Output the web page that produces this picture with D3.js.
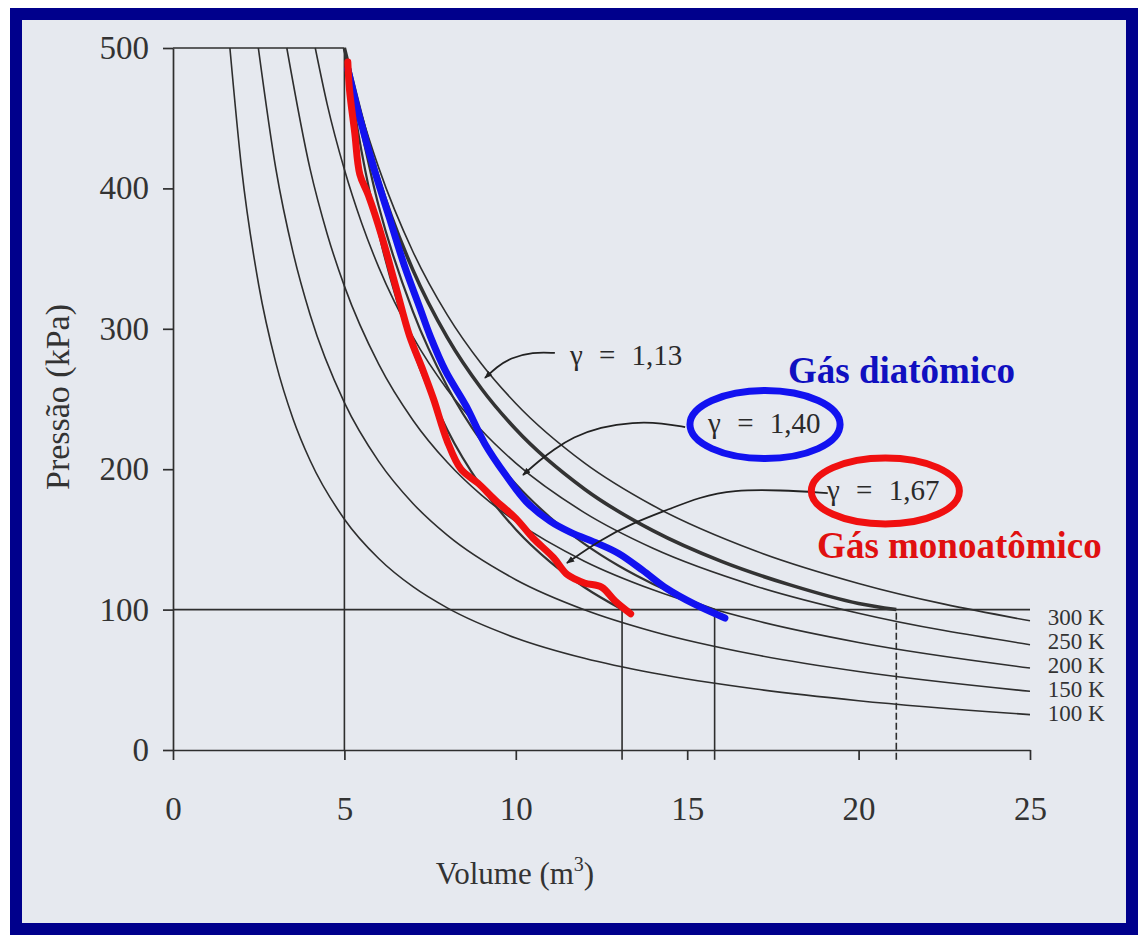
<!DOCTYPE html>
<html><head><meta charset="utf-8">
<script src="https://cdn.jsdelivr.net/npm/d3@7"></script>
<style>html,body{margin:0;padding:0;background:#fff;} svg{display:block;}</style>
</head><body>
<svg id="chart" width="1138" height="935"></svg>
<script>
// ---- data ----
const volumeTicks = [0, 5, 10, 15, 20, 25];
const pressureTicks = [0, 100, 200, 300, 400, 500];

const isoLabels = ["300 K", "250 K", "200 K", "150 K", "100 K"];
const isoLabelP = [89, 72, 55, 38, 21];

const iso300V = [5, 5.5, 6, 7, 8, 9, 10, 12, 14, 17, 20, 25];
const iso300P = [500, 452.8, 414.8, 354.9, 309.9, 274.9, 246.8, 204.5, 174.1, 141.7, 118.6, 92];
const iso250V = [4.15, 4.5, 5, 5.5, 6, 7, 8, 9, 10, 12, 14, 17, 20, 25];
const iso250P = [500, 459.7, 413.4, 375.5, 343.9, 294.2, 256.8, 227.7, 204.3, 169.1, 143.7, 116.7, 97.4, 75];
const iso200V = [3.32, 4, 4.5, 5, 6, 7, 8, 9, 10, 12, 14, 17, 20, 25];
const iso200P = [500, 413.7, 367.4, 330.4, 274.8, 234.9, 204.9, 181.5, 162.8, 134.5, 114.1, 92.2, 76.6, 58.4];
const iso150V = [2.49, 3, 3.5, 4, 5, 6, 7, 8, 10, 12, 14, 17, 20, 25];
const iso150P = [500, 414, 354.6, 310, 247.4, 205.6, 175.6, 153, 121.3, 99.9, 84.4, 67.8, 55.9, 41.8];
const iso100V = [1.66, 2, 2.5, 3, 3.5, 4, 5, 6, 7, 8, 10, 12, 14, 17, 20, 25];
const iso100P = [500, 414.4, 331.2, 275.7, 236, 206.2, 164.4, 136.4, 116.3, 101.2, 79.8, 65.3, 54.8, 43.4, 35.1, 25.2];

const ad113V = [5, 6, 7, 8, 9, 10, 12, 14, 16, 18, 20, 21.1];
const ad113P = [500, 406.9, 341.8, 293.9, 257.3, 228.4, 185.9, 156.2, 134.3, 117.6, 104.4, 100];
const ad140V = [5, 6, 7, 8, 9, 10, 11, 12, 13, 14, 15, 15.8];
const ad140P = [500, 387.4, 312.2, 258.9, 219.6, 189.5, 165.8, 146.8, 131.2, 118.3, 107.4, 100];
const ad167V = [5, 5.5, 6, 7, 8, 9, 10, 11, 12, 13.1];
const ad167P = [500, 426.5, 368.7, 285.1, 228.1, 187.4, 157.1, 134, 115.9, 100];

const blueV = [5.1, 5.45, 5.85, 6.3, 6.75, 7.2, 7.5, 7.95, 8.55, 9.1, 9.7, 10.3, 11.0, 11.6, 12.4, 13.0, 13.7, 14.4, 15.2, 16.1];
const blueP = [485, 450, 415, 380, 345, 315, 295, 270, 245, 218, 196, 177, 163, 155, 147, 140, 128, 115, 104, 94];
const redV = [5.1, 5.15, 5.3, 5.45, 5.7, 6.1, 6.5, 6.9, 7.3, 7.6, 8.0, 8.4, 8.9, 9.4, 10.0, 10.5, 11.1, 11.5, 12.0, 12.5, 12.9, 13.35];
const redP = [490, 470, 440, 410, 395, 365, 330, 295, 270, 250, 220, 200, 190, 178, 165, 151, 137, 125, 119, 116, 106, 97];

const refVolumes = [13.1, 15.8];
const dashedVolume = 21.1;

const lead113V = [11.14, 10.5, 9.83, 9.45, 9.1];
const lead113P = [282.8, 283.5, 279.2, 272.8, 265];
const lead140V = [14.94, 14.29, 13.42, 12.46, 11.67, 11.09, 10.71, 10.21];
const lead140P = [230, 232.9, 233.6, 230, 222.9, 213.7, 206.6, 195.9];
const lead167V = [19.1, 17.71, 16.34, 15.37, 14.41, 13.42, 12.46, 11.49];
const lead167P = [183, 185.2, 185.2, 180.2, 170.9, 161.7, 149.6, 133.2];

// ---- drawing ----
const svg = d3.select("#chart");
const W = 1138, H = 935;
const ink = "#2e2e2e";
const serif = "'Liberation Serif','Times New Roman',serif";

svg.append("rect").attr("x", 0).attr("y", 0).attr("width", W).attr("height", H).attr("fill", "#ffffff");
svg.append("rect").attr("x", 16).attr("y", 14).attr("width", 1116).attr("height", 915)
  .attr("fill", "#e6e9ef").attr("stroke", "#00008c").attr("stroke-width", 12);

const x = d3.scaleLinear().domain([0, 25]).range([173, 1030]);
const y = d3.scaleLinear().domain([0, 500]).range([750, 48]);

const zip = (vs, ps) => vs.map((v, i) => [v, ps[i]]);
const smooth = d3.line().x(d => x(d[0])).y(d => y(d[1])).curve(d3.curveMonotoneX);
const hand = d3.line().x(d => x(d[0])).y(d => y(d[1])).curve(d3.curveCatmullRom.alpha(0.5));

// axes
const xAxis = d3.axisBottom(x).tickValues(volumeTicks).tickSize(10).tickSizeOuter(0).tickPadding(37);
const yAxis = d3.axisLeft(y).tickValues(pressureTicks).tickSize(10).tickSizeOuter(0).tickPadding(14);
const gx = svg.append("g").attr("transform", `translate(0,${y(0)})`).call(xAxis);
const gy = svg.append("g").attr("transform", `translate(${x(0)},0)`).call(yAxis);
[gx, gy].forEach(g => {
  g.selectAll("path,line").attr("stroke", ink).attr("stroke-width", 1.7);
  g.selectAll("text").attr("font-family", serif).attr("font-size", 33).attr("fill", "#333");
});

// reference lines
const refs = svg.append("g").attr("stroke", ink).attr("stroke-width", 1.6).attr("fill", "none");
refs.append("line").attr("x1", x(0)).attr("x2", x(5)).attr("y1", y(500)).attr("y2", y(500));
refs.append("line").attr("x1", x(0)).attr("x2", x(25)).attr("y1", y(100)).attr("y2", y(100));
refs.append("line").attr("x1", x(5)).attr("x2", x(5)).attr("y1", y(0)).attr("y2", y(500));
refs.selectAll(".rv").data(refVolumes).enter().append("line")
  .attr("x1", d => x(d)).attr("x2", d => x(d)).attr("y1", y(-7)).attr("y2", y(100));
refs.append("line").attr("x1", x(dashedVolume)).attr("x2", x(dashedVolume))
  .attr("y1", y(-7)).attr("y2", y(100)).attr("stroke-dasharray", "7,3");

// isotherms
const isotherms = [zip(iso300V, iso300P), zip(iso250V, iso250P), zip(iso200V, iso200P), zip(iso150V, iso150P), zip(iso100V, iso100P)];
svg.append("g").selectAll("path").data(isotherms).enter().append("path")
  .attr("d", smooth).attr("fill", "none").attr("stroke", ink).attr("stroke-width", 1.6);

// adiabats
const adiabats = [
  {pts: zip(ad113V, ad113P), w: 3.6},
  {pts: zip(ad140V, ad140P), w: 2.2},
  {pts: zip(ad167V, ad167P), w: 2.2}
];
svg.append("g").selectAll("path").data(adiabats).enter().append("path")
  .attr("d", d => smooth(d.pts)).attr("fill", "none").attr("stroke", "#333").attr("stroke-width", d => d.w);

// isotherm labels
svg.append("g").selectAll("text").data(isoLabels).enter().append("text")
  .attr("x", x(25.52)).attr("y", (d, i) => y(isoLabelP[i]))
  .attr("font-family", serif).attr("font-size", 23).attr("fill", "#333").text(d => d);

// hand-drawn coloured curves
svg.append("path").attr("d", hand(zip(blueV, blueP))).attr("fill", "none")
  .attr("stroke", "#1212f0").attr("stroke-width", 7).attr("stroke-linecap", "round").attr("stroke-linejoin", "round");
svg.append("path").attr("d", hand(zip(redV, redP))).attr("fill", "none")
  .attr("stroke", "#f01010").attr("stroke-width", 7).attr("stroke-linecap", "round").attr("stroke-linejoin", "round");

// leader lines with arrowheads
svg.append("defs").append("marker").attr("id", "arr").attr("viewBox", "0 0 10 10")
  .attr("refX", 9).attr("refY", 5).attr("markerWidth", 8).attr("markerHeight", 8)
  .attr("markerUnits", "userSpaceOnUse").attr("orient", "auto")
  .append("path").attr("d", "M0,1 L10,5 L0,9 Z").attr("fill", "#222");
const leaders = [zip(lead113V, lead113P), zip(lead140V, lead140P), zip(lead167V, lead167P)];
const leadLine = d3.line().x(d => x(d[0])).y(d => y(d[1])).curve(d3.curveBasis);
svg.append("g").selectAll("path").data(leaders).enter().append("path")
  .attr("d", leadLine).attr("fill", "none").attr("stroke", "#222").attr("stroke-width", 1.8)
  .attr("marker-end", "url(#arr)");

// ellipses
svg.append("ellipse").attr("cx", x(17.27)).attr("cy", y(231.8))
  .attr("rx", x(17.27 + 2.19) - x(17.27)).attr("ry", y(231.8 - 24.2) - y(231.8))
  .attr("fill", "none").attr("stroke", "#1212f0").attr("stroke-width", 7);
svg.append("ellipse").attr("cx", x(20.78)).attr("cy", y(184.5))
  .attr("rx", x(20.78 + 2.16) - x(20.78)).attr("ry", y(184.5 - 23.5) - y(184.5))
  .attr("fill", "none").attr("stroke", "#f01010").attr("stroke-width", 7);

// gamma labels
const gammaText = [
  {t: "γ = 1,13", v: 11.58, p: 274.2},
  {t: "γ = 1,40", v: 15.61, p: 225.8},
  {t: "γ = 1,67", v: 19.08, p: 178.1}
];
svg.append("g").selectAll("text").data(gammaText).enter().append("text")
  .attr("x", d => x(d.v)).attr("y", d => y(d.p))
  .attr("word-spacing", 9)
  .attr("font-family", serif).attr("font-size", 29).attr("fill", "#2a2a2a").text(d => d.t);

// gas labels
svg.append("text").attr("x", x(17.94)).attr("y", y(261.4))
  .attr("font-family", serif).attr("font-weight", "bold").attr("font-size", 37)
  .attr("fill", "#1010c0").text("Gás diatômico");
svg.append("text").attr("x", x(18.79)).attr("y", y(136.8))
  .attr("font-family", serif).attr("font-weight", "bold").attr("font-size", 37)
  .attr("fill", "#e01010").text("Gás monoatômico");

// axis titles
svg.append("text").attr("transform", "translate(69,397) rotate(-90)")
  .attr("text-anchor", "middle").attr("font-family", serif).attr("font-size", 34).attr("fill", "#333")
  .text("Pressão (kPa)");
const vt = svg.append("text").attr("x", 515).attr("y", 884).attr("text-anchor", "middle")
  .attr("font-family", serif).attr("font-size", 31).attr("fill", "#333");
vt.append("tspan").text("Volume (m");
vt.append("tspan").attr("dy", -13).attr("font-size", 20).text("3");
vt.append("tspan").attr("dy", 13).text(")");
</script>
</body></html>
